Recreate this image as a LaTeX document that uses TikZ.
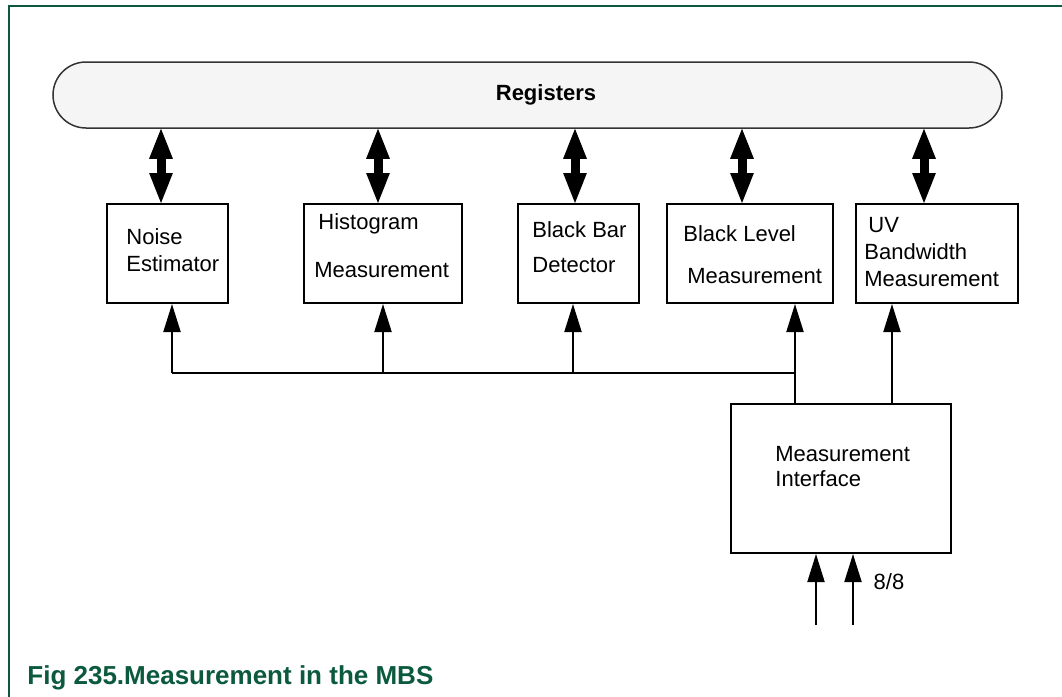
\documentclass[tikz,border=0pt]{standalone}
\usepackage{fontspec}
\setmainfont{Liberation Sans}
\usepackage{tikz}
\usetikzlibrary{arrows.meta,shapes.misc}
\definecolor{figgreen}{HTML}{0B5A3E}
\definecolor{regfill}{HTML}{F5F5F5}
\definecolor{regline}{HTML}{333333}

\begin{document}
\begin{tikzpicture}[
        x=0.5pt, y=-0.5pt,
        font=\fontsize{11}{13.5}\selectfont,
        box/.style={rectangle, draw, line width=1pt, inner sep=0pt, minimum height=49.5pt},
        txt/.style={anchor=north west, inner sep=0pt, align=left},
        dbl/.style={line width=4.5pt, shorten <=-1pt, shorten >=-1pt, {Triangle[length=16pt,width=10.5pt]}-{Triangle[length=16pt,width=10.5pt]}},
        up/.style={line width=1pt, -{Triangle[length=14pt,width=8.5pt]}},
        bus/.style={line width=1pt}
    ]
        \useasboundingbox (0,0) rectangle (1062,697);

        % page frame
        \draw[figgreen, line width=0.75pt] (1062,6) -- (9,6) -- (9,697);

        % register bank
        \node[rounded rectangle, draw=regline, line width=0.75pt, fill=regfill,
              minimum width=474.5pt, minimum height=33pt, inner sep=0pt] (regs) at (527.5,95) {};
        \node[font=\fontsize{11}{13.5}\selectfont\bfseries] (regs-txt) at (546,95) {Registers};

        % measurement blocks
        \node[box, minimum width=60.5pt] (noise) at (167.5,253.5) {};
        \node[box, minimum width=79pt] (hist) at (383,253.5) {};
        \node[box, minimum width=60.5pt] (bbar) at (578.5,253.5) {};
        \node[box, minimum width=83pt] (blev) at (750,253.5) {};
        \node[box, minimum width=81pt] (uv) at (937,253.5) {};
        \node[box, minimum width=110pt, minimum height=74.5pt] (mi) at (841,478.5) {};

        \node[txt] (noise-txt) at (126,228) {Noise\\Estimator};
        \node[txt] (hist-txt) at (314,213) {\hspace{2pt}Histogram\\[10.5pt]Measurement};
        \node[txt] (bbar-txt) at (532,221) {Black Bar\\[4pt]Detector};
        \node[txt] (blev-txt) at (683,225) {Black Level\\[7.5pt]\hspace{2pt}Measurement};
        \node[txt] (uv-txt) at (864,217) {\hspace{2pt}UV\\Bandwidth\\Measurement};
        \node[txt] (mi-txt) at (775,446) {Measurement\\[-1pt]Interface};

        % register access
        \foreach \n/\x in {noise/161, hist/378, bbar/575, blev/742, uv/924} {
            \coordinate (\n-reg) at (\x,0);
            \draw[dbl] (regs.south -| \n-reg) -- (\n.north -| \n-reg);
        }

        % measurement data bus
        \coordinate (bus-l) at (172,373);
        \coordinate (bus-r) at (795,373);
        \coordinate (hist-in) at (383,0);
        \coordinate (bbar-in) at (573,0);
        \coordinate (uv-in) at (892,0);
        \draw[bus] (bus-l) -- (bus-r);
        \draw[up] (bus-l) -- (noise.south -| bus-l);
        \draw[up] (bus-l -| hist-in) -- (hist.south -| hist-in);
        \draw[up] (bus-l -| bbar-in) -- (bbar.south -| bbar-in);
        \draw[up] (mi.north -| bus-r) -- (blev.south -| bus-r);
        \draw[up] (mi.north -| uv-in) -- (uv.south -| uv-in);

        % interface inputs
        \coordinate (in-a) at (816,625);
        \coordinate (in-b) at (853,625);
        \draw[up] (in-a) -- (mi.south -| in-a);
        \draw[up] (in-b) -- (mi.south -| in-b);
        \node (width-txt) at (889,582) {8/8};

        % caption
        \node[anchor=base west, inner sep=0pt, text=figgreen, font=\fontsize{13}{15}\selectfont\bfseries] (caption) at (27,684) {Fig 235.Measurement in the MBS};
    \end{tikzpicture}
\end{document}
